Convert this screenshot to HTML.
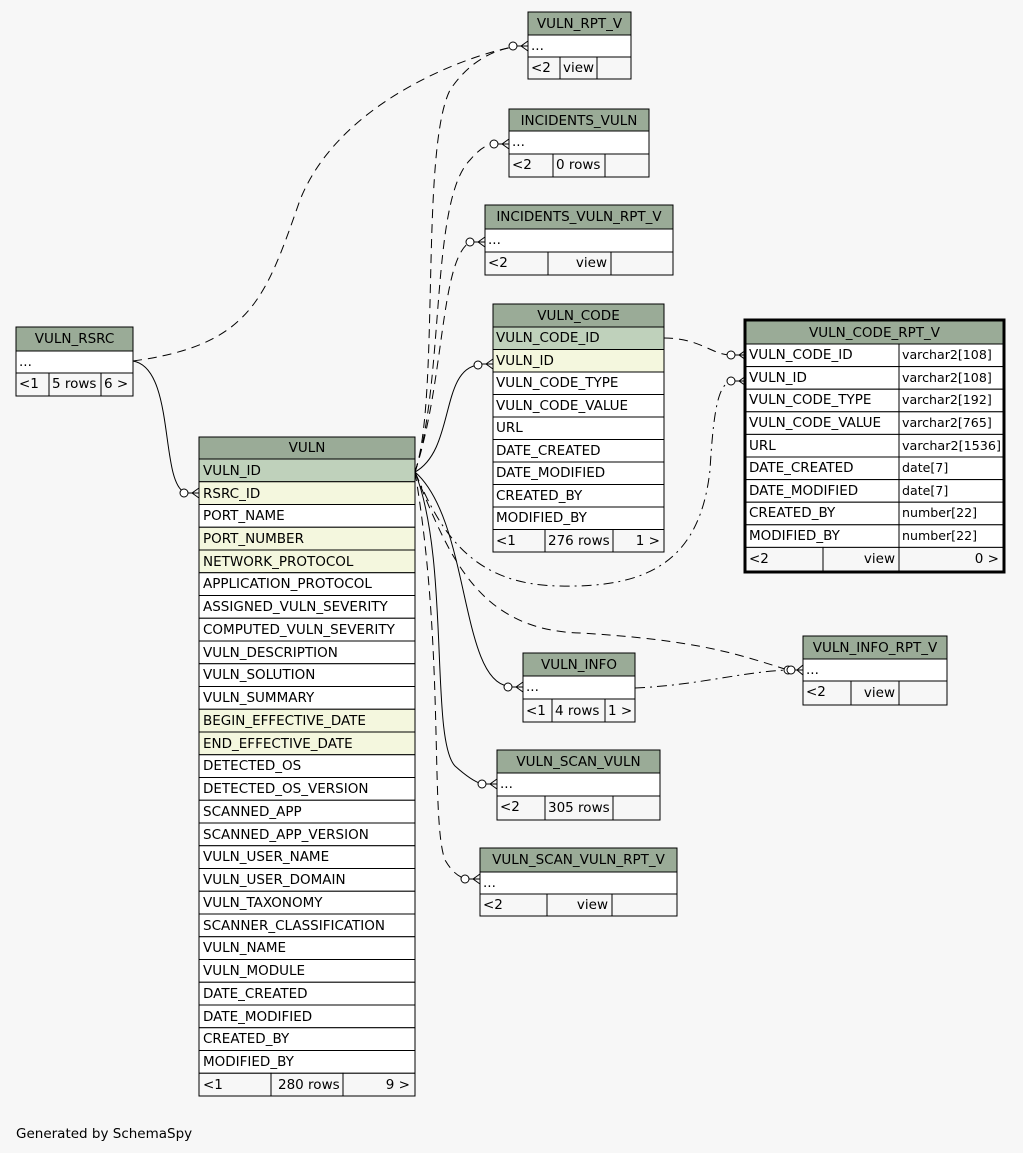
<!DOCTYPE html>
<html><head><meta charset="utf-8"><style>
html,body{margin:0;padding:0;background:#f7f7f7}
svg{display:block}
text{font-family:"DejaVu Sans","Liberation Sans",sans-serif;font-size:13.5px;fill:#000}
text.t{font-size:12.6px}
.h{fill:#9aab97}.pk{fill:#bfd1bb}.fk{fill:#f4f7de}.w{fill:#fff}.f{fill:#f7f7f7}
rect{stroke:#000;stroke-width:1}
.e{fill:none;stroke:#000;stroke-width:1}
.d{stroke-dasharray:9,6}
.dd{stroke-dasharray:10,5,2,5}
</style></head><body>
<svg width="1023" height="1153" viewBox="0 0 1023 1153" xmlns="http://www.w3.org/2000/svg">
<!-- edges -->
<path class="e" d="M133,361 C175,368 160,480 184,492"/>
<path class="e d" d="M133,361 C250,345 265,300 300,200 C340,100 470,55 513,47"/>
<path class="e d" d="M415,472 C440,400 420,150 450,90 C470,60 495,50 513,47"/>
<path class="e d" d="M415,472 C445,380 430,200 470,160 C480,148 488,144 494,144"/>
<path class="e d" d="M415,472 C445,380 440,260 470,242"/>
<path class="e" d="M415,472 C455,450 440,370 478,365"/>
<path class="e dd" d="M415,472 C440,530 470,585 560,586 C650,588 700,560 710,470 C714,400 720,385 731,381"/>
<path class="e d" d="M664,338 C700,338 712,355 731,355"/>
<path class="e d" d="M415,472 C450,560 480,630 580,633 C700,640 740,655 788,670"/>
<path class="e dd" d="M635,688 C700,685 740,672 788,670"/>
<path class="e" d="M415,472 C470,520 460,680 508,686"/>
<path class="e" d="M415,472 C450,560 430,740 455,766 C465,775 475,782 482,784"/>
<path class="e d" d="M415,472 C445,650 430,820 445,860 C452,872 458,876 465,879"/>
<!-- crow's feet -->
<g class="e" fill="none">
<circle cx="513" cy="46" r="4" fill="#fff"/><path d="M517,46 L528,46 M521,46 L528,41 M521,46 L528,51"/>
<circle cx="494" cy="144" r="4" fill="#fff"/><path d="M498,144 L509,144 M502,144 L509,139 M502,144 L509,149"/>
<circle cx="470" cy="242" r="4" fill="#fff"/><path d="M474,242 L485,242 M478,242 L485,237 M478,242 L485,247"/>
<circle cx="478" cy="365" r="4" fill="#fff"/><path d="M482,364 L493,364 M486,364 L493,359 M486,364 L493,369"/>
<circle cx="731" cy="355" r="4" fill="#fff"/><path d="M735,355 L746,355 M739,355 L746,350 M739,355 L746,360"/>
<circle cx="731" cy="381" r="4" fill="#fff"/><path d="M735,381 L746,381 M739,381 L746,376 M739,381 L746,386"/>
<circle cx="788" cy="670" r="4" fill="#fff"/><circle cx="791" cy="670" r="4" fill="#fff"/><path d="M795,670 L803,670 M797,670 L803,665 M797,670 L803,675"/>
<circle cx="508" cy="687" r="4" fill="#fff"/><path d="M512,687 L523,687 M516,687 L523,682 M516,687 L523,692"/>
<circle cx="482" cy="784" r="4" fill="#fff"/><path d="M486,784 L497,784 M490,784 L497,779 M490,784 L497,789"/>
<circle cx="465" cy="879" r="4" fill="#fff"/><path d="M469,879 L480,879 M473,879 L480,874 M473,879 L480,884"/>
<circle cx="184" cy="493" r="4" fill="#fff"/><path d="M188,493 L199,493 M192,493 L199,488 M192,493 L199,498"/>
</g>

<!-- VULN_RPT_V -->
<rect class="h" x="528" y="12" width="103" height="23"/><text x="579.5" y="28" text-anchor="middle">VULN_RPT_V</text>
<rect class="w" x="528" y="35" width="103" height="22"/><text x="531" y="50">...</text>
<rect class="f" x="528" y="57" width="32" height="22"/><rect class="f" x="560" y="57" width="37" height="22"/><rect class="f" x="597" y="57" width="34" height="22"/>
<text x="531" y="72">&lt;2</text><text x="563" y="72">view</text>

<!-- INCIDENTS_VULN -->
<rect class="h" x="509" y="109" width="140" height="22"/><text x="579" y="125" text-anchor="middle">INCIDENTS_VULN</text>
<rect class="w" x="509" y="131" width="140" height="23"/><text x="512" y="146">...</text>
<rect class="f" x="509" y="154" width="44" height="23"/><rect class="f" x="553" y="154" width="52" height="23"/><rect class="f" x="605" y="154" width="44" height="23"/>
<text x="512" y="169">&lt;2</text><text x="556" y="169">0 rows</text>

<!-- INCIDENTS_VULN_RPT_V -->
<rect class="h" x="485" y="205" width="188" height="24"/><text x="579" y="221" text-anchor="middle">INCIDENTS_VULN_RPT_V</text>
<rect class="w" x="485" y="229" width="188" height="23"/><text x="488" y="244">...</text>
<rect class="f" x="485" y="252" width="63" height="23"/><rect class="f" x="548" y="252" width="63" height="23"/><rect class="f" x="611" y="252" width="62" height="23"/>
<text x="488" y="267">&lt;2</text><text x="607" y="267" text-anchor="end">view</text>

<!-- VULN_CODE -->
<rect class="h" x="493" y="304" width="171" height="23"/><text x="578.5" y="320" text-anchor="middle">VULN_CODE</text>
<rect class="pk" x="493" y="327" width="171" height="22.5"/><text x="496" y="342">VULN_CODE_ID</text>
<rect class="fk" x="493" y="349.5" width="171" height="22.5"/><text x="496" y="365">VULN_ID</text>
<rect class="w" x="493" y="372" width="171" height="22.5"/><text x="496" y="387">VULN_CODE_TYPE</text>
<rect class="w" x="493" y="394.5" width="171" height="22.5"/><text x="496" y="410">VULN_CODE_VALUE</text>
<rect class="w" x="493" y="417" width="171" height="22.5"/><text x="496" y="432">URL</text>
<rect class="w" x="493" y="439.5" width="171" height="22.5"/><text x="496" y="455">DATE_CREATED</text>
<rect class="w" x="493" y="462" width="171" height="22.5"/><text x="496" y="477">DATE_MODIFIED</text>
<rect class="w" x="493" y="484.5" width="171" height="22.5"/><text x="496" y="500">CREATED_BY</text>
<rect class="w" x="493" y="507" width="171" height="22.5"/><text x="496" y="522">MODIFIED_BY</text>
<rect class="f" x="493" y="529.5" width="52" height="22.5"/><rect class="f" x="545" y="529.5" width="68" height="22.5"/><rect class="f" x="613" y="529.5" width="51" height="22.5"/>
<text x="496" y="545">&lt;1</text><text x="548" y="545">276 rows</text><text x="660" y="545" text-anchor="end">1 &gt;</text>

<!-- VULN_CODE_RPT_V -->
<rect x="745" y="320" width="259" height="252" fill="none" style="stroke-width:3"/>
<rect class="h" x="746" y="321" width="257" height="23"/><text x="874.5" y="337" text-anchor="middle">VULN_CODE_RPT_V</text>
<g>
<rect class="w" x="746" y="344" width="153" height="22.6"/><rect class="w" x="899" y="344" width="104" height="22.6"/><text x="749" y="359">VULN_CODE_ID</text><text class="t" x="902" y="359">varchar2[108]</text>
<rect class="w" x="746" y="366.6" width="153" height="22.6"/><rect class="w" x="899" y="366.6" width="104" height="22.6"/><text x="749" y="382">VULN_ID</text><text class="t" x="902" y="382">varchar2[108]</text>
<rect class="w" x="746" y="389.2" width="153" height="22.6"/><rect class="w" x="899" y="389.2" width="104" height="22.6"/><text x="749" y="404">VULN_CODE_TYPE</text><text class="t" x="902" y="404">varchar2[192]</text>
<rect class="w" x="746" y="411.8" width="153" height="22.6"/><rect class="w" x="899" y="411.8" width="104" height="22.6"/><text x="749" y="427">VULN_CODE_VALUE</text><text class="t" x="902" y="427">varchar2[765]</text>
<rect class="w" x="746" y="434.4" width="153" height="22.6"/><rect class="w" x="899" y="434.4" width="104" height="22.6"/><text x="749" y="450">URL</text><text class="t" x="902" y="450" textLength="99" lengthAdjust="spacingAndGlyphs">varchar2[1536]</text>
<rect class="w" x="746" y="457" width="153" height="22.6"/><rect class="w" x="899" y="457" width="104" height="22.6"/><text x="749" y="472">DATE_CREATED</text><text class="t" x="902" y="472">date[7]</text>
<rect class="w" x="746" y="479.6" width="153" height="22.6"/><rect class="w" x="899" y="479.6" width="104" height="22.6"/><text x="749" y="495">DATE_MODIFIED</text><text class="t" x="902" y="495">date[7]</text>
<rect class="w" x="746" y="502.2" width="153" height="22.6"/><rect class="w" x="899" y="502.2" width="104" height="22.6"/><text x="749" y="517">CREATED_BY</text><text class="t" x="902" y="517">number[22]</text>
<rect class="w" x="746" y="524.8" width="153" height="22.6"/><rect class="w" x="899" y="524.8" width="104" height="22.6"/><text x="749" y="540">MODIFIED_BY</text><text class="t" x="902" y="540">number[22]</text>
<rect class="f" x="746" y="547.4" width="77" height="23.6"/><rect class="f" x="823" y="547.4" width="76" height="23.6"/><rect class="f" x="899" y="547.4" width="104" height="23.6"/>
<text x="749" y="563">&lt;2</text><text x="895" y="563" text-anchor="end">view</text><text x="999" y="563" text-anchor="end">0 &gt;</text>
</g>

<!-- VULN_RSRC -->
<rect class="h" x="16" y="327" width="117" height="24"/><text x="74.5" y="343" text-anchor="middle">VULN_RSRC</text>
<rect class="w" x="16" y="351" width="117" height="22"/><text x="19" y="366">...</text>
<rect class="f" x="16" y="373" width="33" height="23"/><rect class="f" x="49" y="373" width="52" height="23"/><rect class="f" x="101" y="373" width="32" height="23"/>
<text x="19" y="388">&lt;1</text><text x="52" y="388">5 rows</text><text x="104" y="388">6 &gt;</text>

<!-- VULN_INFO_RPT_V -->
<rect class="h" x="803" y="636" width="144" height="23"/><text x="875" y="652" text-anchor="middle">VULN_INFO_RPT_V</text>
<rect class="w" x="803" y="659" width="144" height="22"/><text x="806" y="674">...</text>
<rect class="f" x="803" y="681" width="48" height="24"/><rect class="f" x="851" y="681" width="48" height="24"/><rect class="f" x="899" y="681" width="48" height="24"/>
<text x="806" y="696">&lt;2</text><text x="895" y="697" text-anchor="end">view</text>

<!-- VULN_INFO -->
<rect class="h" x="523" y="653" width="112" height="23"/><text x="579" y="669" text-anchor="middle">VULN_INFO</text>
<rect class="w" x="523" y="676" width="112" height="23"/><text x="526" y="691">...</text>
<rect class="f" x="523" y="699" width="29" height="23"/><rect class="f" x="552" y="699" width="53" height="23"/><rect class="f" x="605" y="699" width="30" height="23"/>
<text x="526" y="715">&lt;1</text><text x="555" y="715">4 rows</text><text x="608" y="715">1 &gt;</text>

<!-- VULN_SCAN_VULN -->
<rect class="h" x="497" y="750" width="163" height="23"/><text x="578.5" y="766" text-anchor="middle">VULN_SCAN_VULN</text>
<rect class="w" x="497" y="773" width="163" height="23"/><text x="500" y="788">...</text>
<rect class="f" x="497" y="796" width="48" height="24"/><rect class="f" x="545" y="796" width="68" height="24"/><rect class="f" x="613" y="796" width="47" height="24"/>
<text x="500" y="811">&lt;2</text><text x="548" y="812">305 rows</text>

<!-- VULN_SCAN_VULN_RPT_V -->
<rect class="h" x="480" y="848" width="197" height="24"/><text x="578.5" y="864" text-anchor="middle">VULN_SCAN_VULN_RPT_V</text>
<rect class="w" x="480" y="872" width="197" height="22"/><text x="483" y="887">...</text>
<rect class="f" x="480" y="894" width="67" height="22"/><rect class="f" x="547" y="894" width="65" height="22"/><rect class="f" x="612" y="894" width="65" height="22"/>
<text x="483" y="909">&lt;2</text><text x="608" y="909" text-anchor="end">view</text>

<!-- VULN -->
<rect class="h" x="199" y="437" width="216" height="22"/><text x="307" y="452" text-anchor="middle">VULN</text>
<rect class="pk" x="199" y="459" width="216" height="22.75"/><text x="203" y="475">VULN_ID</text>
<rect class="fk" x="199" y="481.75" width="216" height="22.75"/><text x="203" y="498">RSRC_ID</text>
<rect class="w" x="199" y="504.5" width="216" height="22.75"/><text x="203" y="520">PORT_NAME</text>
<rect class="fk" x="199" y="527.25" width="216" height="22.75"/><text x="203" y="543">PORT_NUMBER</text>
<rect class="fk" x="199" y="550" width="216" height="22.75"/><text x="203" y="566">NETWORK_PROTOCOL</text>
<rect class="w" x="199" y="572.75" width="216" height="22.75"/><text x="203" y="588">APPLICATION_PROTOCOL</text>
<rect class="w" x="199" y="595.5" width="216" height="22.75"/><text x="203" y="611">ASSIGNED_VULN_SEVERITY</text>
<rect class="w" x="199" y="618.25" width="216" height="22.75"/><text x="203" y="634">COMPUTED_VULN_SEVERITY</text>
<rect class="w" x="199" y="641" width="216" height="22.75"/><text x="203" y="657">VULN_DESCRIPTION</text>
<rect class="w" x="199" y="663.75" width="216" height="22.75"/><text x="203" y="679">VULN_SOLUTION</text>
<rect class="w" x="199" y="686.5" width="216" height="22.75"/><text x="203" y="702">VULN_SUMMARY</text>
<rect class="fk" x="199" y="709.25" width="216" height="22.75"/><text x="203" y="725">BEGIN_EFFECTIVE_DATE</text>
<rect class="fk" x="199" y="732" width="216" height="22.75"/><text x="203" y="748">END_EFFECTIVE_DATE</text>
<rect class="w" x="199" y="754.75" width="216" height="22.75"/><text x="203" y="770">DETECTED_OS</text>
<rect class="w" x="199" y="777.5" width="216" height="22.75"/><text x="203" y="793">DETECTED_OS_VERSION</text>
<rect class="w" x="199" y="800.25" width="216" height="22.75"/><text x="203" y="816">SCANNED_APP</text>
<rect class="w" x="199" y="823" width="216" height="22.75"/><text x="203" y="839">SCANNED_APP_VERSION</text>
<rect class="w" x="199" y="845.75" width="216" height="22.75"/><text x="203" y="861">VULN_USER_NAME</text>
<rect class="w" x="199" y="868.5" width="216" height="22.75"/><text x="203" y="884">VULN_USER_DOMAIN</text>
<rect class="w" x="199" y="891.25" width="216" height="22.75"/><text x="203" y="907">VULN_TAXONOMY</text>
<rect class="w" x="199" y="914" width="216" height="22.75"/><text x="203" y="930">SCANNER_CLASSIFICATION</text>
<rect class="w" x="199" y="936.75" width="216" height="22.75"/><text x="203" y="952">VULN_NAME</text>
<rect class="w" x="199" y="959.5" width="216" height="22.75"/><text x="203" y="975">VULN_MODULE</text>
<rect class="w" x="199" y="982.25" width="216" height="22.75"/><text x="203" y="998">DATE_CREATED</text>
<rect class="w" x="199" y="1005" width="216" height="22.75"/><text x="203" y="1021">DATE_MODIFIED</text>
<rect class="w" x="199" y="1027.75" width="216" height="22.75"/><text x="203" y="1043">CREATED_BY</text>
<rect class="w" x="199" y="1050.5" width="216" height="22.75"/><text x="203" y="1066">MODIFIED_BY</text>
<rect class="f" x="199" y="1073.25" width="72" height="22.75"/><rect class="f" x="271" y="1073.25" width="72" height="22.75"/><rect class="f" x="343" y="1073.25" width="72" height="22.75"/>
<text x="203" y="1089">&lt;1</text><text x="278" y="1089">280 rows</text><text x="410" y="1089" text-anchor="end">9 &gt;</text>

<text x="16" y="1138">Generated by SchemaSpy</text>
</svg>
</body></html>
